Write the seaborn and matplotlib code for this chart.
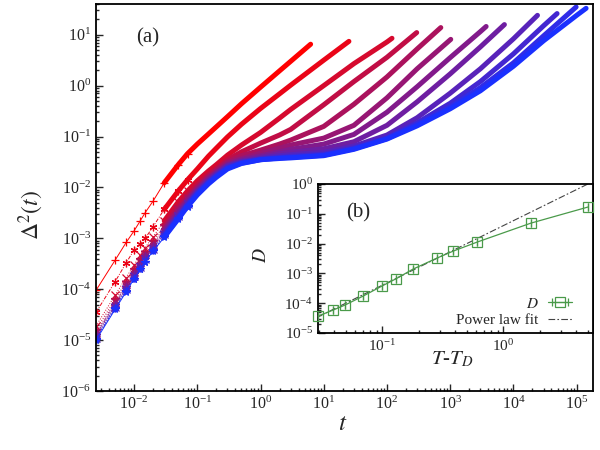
# Mean-squared displacement curves (a) with an inset of the diffusion coefficient vs T-T_D (b).

import numpy as np
import matplotlib
matplotlib.use("Agg")
import matplotlib.pyplot as plt
import matplotlib.ticker as mticker
import seaborn as sns

# ---- data ----
t_grid = [0.0025, 0.005, 0.0075, 0.01, 0.0125, 0.015, 0.02, 0.03, 0.05, 0.07, 0.1, 0.15, 0.2, 0.3, 0.5,
          1, 2, 3, 10, 30, 100, 300, 1e3, 3e3, 1e4, 3e4, 1e5]

msd_1 = [9.5e-5, 3.7e-4, 8.3e-4, 1.4e-3, 2.2e-3, 3.2e-3, 5.4e-3, 1.23e-2, 2.8e-2, 4.6e-2, 7.1e-2, 0.112,
         0.155, 0.245, 0.44, 0.93, 1.95, 3.0]
msd_2 = [3.5e-5, 1.4e-4, 3.3e-4, 5.9e-4, 7.8e-4, 1.0e-3, 1.7e-3, 3.7e-3, 8.5e-3, 1.41e-2, 2.3e-2, 4.1e-2,
         5.9e-2, 9.8e-2, 0.174, 0.355, 0.69, 1.02, 3.16]
msd_3 = [1.9e-5, 7.6e-5, 1.7e-4, 3.0e-4, 4.7e-4, 6.6e-4, 1.07e-3, 2.2e-3, 5.2e-3, 8.5e-3, 1.35e-2, 2.1e-2,
         2.8e-2, 4.3e-2, 6.8e-2, 0.12, 0.23, 0.34, 1.0, 2.7, 7.2]
msd_4 = [1.6e-5, 6.3e-5, 1.4e-4, 2.5e-4, 3.9e-4, 5.5e-4, 8.9e-4, 1.8e-3, 4.2e-3, 6.9e-3, 1.12e-2, 1.78e-2,
         2.3e-2, 3.5e-2, 5.0e-2, 7.4e-2, 0.107, 0.138, 0.42, 1.2, 3.6]
msd_5 = [1.4e-5, 5.6e-5, 1.26e-4, 2.2e-4, 3.5e-4, 4.9e-4, 7.9e-4, 1.6e-3, 3.7e-3, 6.2e-3, 1.0e-2, 1.62e-2,
         2.2e-2, 3.2e-2, 4.2e-2, 5.4e-2, 7.1e-2, 8.5e-2, 0.158, 0.43, 1.48, 5.25]
msd_6 = [1.3e-5, 5.2e-5, 1.2e-4, 2.1e-4, 3.2e-4, 4.6e-4, 7.4e-4, 1.45e-3, 3.4e-3, 5.8e-3, 9.5e-3, 1.55e-2,
         2.0e-2, 3.0e-2, 3.7e-2, 4.7e-2, 5.9e-2, 6.8e-2, 9.3e-2, 0.166, 0.575, 2.14]
msd_7 = [1.26e-5, 5.0e-5, 1.1e-4, 2.0e-4, 3.1e-4, 4.4e-4, 7.1e-4, 1.35e-3, 3.2e-3, 5.4e-3, 8.9e-3, 1.45e-2,
         1.95e-2, 2.8e-2, 3.5e-2, 4.2e-2, 5.0e-2, 5.6e-2, 7.1e-2, 0.11, 0.30, 0.95, 3.55, 11.5]
msd_8 = [1.2e-5, 4.7e-5, 1.05e-4, 1.9e-4, 2.9e-4, 4.1e-4, 6.6e-4, 1.26e-3, 2.95e-3, 5.0e-3, 8.5e-3, 1.38e-2,
         1.86e-2, 2.7e-2, 3.3e-2, 3.9e-2, 4.6e-2, 4.9e-2, 5.75e-2, 7.9e-2, 0.166, 0.48, 1.7, 5.75]
msd_9 = [1.1e-5, 4.5e-5, 1.0e-4, 1.8e-4, 2.75e-4, 3.9e-4, 6.3e-4, 1.2e-3, 2.8e-3, 4.8e-3, 8.1e-3, 1.32e-2,
         1.78e-2, 2.6e-2, 3.2e-2, 3.7e-2, 4.2e-2, 4.4e-2, 4.9e-2, 6.5e-2, 0.107, 0.234, 0.71, 2.14, 8.3]
msd_10 = [1.07e-5, 4.3e-5, 9.5e-5, 1.7e-4, 2.6e-4, 3.7e-4, 6.0e-4, 1.15e-3, 2.6e-3, 4.6e-3, 7.8e-3, 1.26e-2,
          1.7e-2, 2.45e-2, 3.1e-2, 3.6e-2, 3.9e-2, 4.1e-2, 4.5e-2, 6.0e-2, 9.5e-2, 0.186, 0.45, 1.2, 4.2, 15]
msd_11 = [1.05e-5, 4.2e-5, 9.3e-5, 1.6e-4, 2.5e-4, 3.5e-4, 5.8e-4, 1.1e-3, 2.5e-3, 4.4e-3, 7.4e-3, 1.23e-2,
          1.66e-2, 2.4e-2, 3.0e-2, 3.5e-2, 3.8e-2, 3.9e-2, 4.3e-2, 5.75e-2, 9.1e-2, 0.174, 0.38, 0.91, 2.8, 9.5]
msd_12 = [1.0e-5, 4.0e-5, 8.9e-5, 1.6e-4, 2.45e-4, 3.5e-4, 5.6e-4, 1.05e-3, 2.4e-3, 4.2e-3, 7.1e-3, 1.17e-2,
          1.58e-2, 2.3e-2, 2.95e-2, 3.5e-2, 3.7e-2, 3.8e-2, 4.2e-2, 5.6e-2, 8.9e-2, 0.162, 0.35, 0.79, 2.4, 7.6, 24]

# last sample of each run
t_end = [6.2, 25, 120, 295, 710, 1020, 3700, 7200, 24000, 49000, 98000, 141000]
msd_end = [6.5, 7.4, 8.5, 11, 13.8, 8.1, 14.5, 15.8, 24, 26, 35, 33]

all_msd = [msd_1, msd_2, msd_3, msd_4, msd_5, msd_6, msd_7, msd_8, msd_9, msd_10, msd_11, msd_12]

# inset: diffusion coefficient
temp_diff = [0.0296, 0.0394, 0.0494, 0.0697, 0.1, 0.131, 0.18, 0.285, 0.386, 0.61, 1.70, 5.04]
diff_coef = [3.7e-5, 5.9e-5, 8.7e-5, 1.74e-4, 3.8e-4, 6.7e-4, 1.4e-3, 3.3e-3, 5.6e-3, 1.13e-2, 4.9e-2, 0.17]
fit_amp = 0.04   # D = fit_amp * (T-T_D)^fit_exp
fit_exp = 2.0

# ---- style ----
sns.set_style("ticks")
plt.rcParams["font.family"] = ["Liberation Serif", "DejaVu Serif"]
plt.rcParams["mathtext.fontset"] = "stix"
plt.rcParams["axes.linewidth"] = 1.3

colors = sns.blend_palette(["#ff0000", "#1a30ff"], len(all_msd))
markers = ["+", (6, 2, 0), "x", "*", "x", (6, 2, 0), "*", "+", "x", (6, 2, 0), "*", "*"]
styles = ["-", (0, (4, 1.5, 1, 1.5)), ":", ":", ":", ":", ":", ":", ":", ":", ":", "-"]
n_sym = 10      # samples drawn with individual symbols
thick_from = 7  # dense sampling from here on shows as a thick band

fig = plt.figure(figsize=(6, 4.5), dpi=100)
ax = fig.add_axes([0.16, 0.131, 0.828, 0.86])

for msd, te, me, c, m, ls in zip(all_msd, t_end, msd_end, colors, markers, styles):
    t = t_grid[:len(msd)] + [te]
    y = msd + [me]
    sns.lineplot(x=t[:n_sym], y=y[:n_sym], ax=ax, color=c, lw=0.7, linestyle=ls,
                 marker=m, ms=5.5, mec=c, mfc=c, mew=0.9, legend=False)
    sns.lineplot(x=t[thick_from:], y=y[thick_from:], ax=ax, color=c, lw=3.6,
                 solid_capstyle="round", solid_joinstyle="round", legend=False)

ax.set_xscale("log")
ax.set_yscale("log")
ax.set_xlim(2.5e-3, 1.8e5)
ax.set_ylim(1e-6, 40)
ax.set_xticks(10.0 ** np.arange(-2, 6))
ax.set_yticks(10.0 ** np.arange(-6, 2))
ax.xaxis.set_minor_locator(mticker.LogLocator(base=10, subs=np.arange(2, 10), numticks=100))
ax.yaxis.set_minor_locator(mticker.LogLocator(base=10, subs=np.arange(2, 10), numticks=100))
ax.xaxis.set_minor_formatter(mticker.NullFormatter())
ax.yaxis.set_minor_formatter(mticker.NullFormatter())
ax.tick_params(which="both", direction="in", labelsize=11.5, width=1)
ax.tick_params(which="major", length=5)
ax.tick_params(which="minor", length=2.5)
for s in ax.spines.values():
    s.set_visible(True)
    s.set_color("black")

ax.set_xlabel(r"$t$", fontsize=18)
ax.set_ylabel(r"$\mathit{\Delta}^2(t)$", fontsize=17)
ax.xaxis.set_label_coords(0.497, -0.058)
ax.yaxis.set_label_coords(-0.1, 0.455)
ax.text(0.105, 0.912, "(a)", transform=ax.transAxes, fontsize=15, ha="center", va="center")

# ---- inset ----
axin = fig.add_axes([0.53, 0.26, 0.458, 0.331])
axin.set_facecolor("white")
green = "#4a9a4a"

axin.set_xscale("log")
axin.set_yscale("log")
xlo, xhi = 0.0295, 5.5
fit_x = [xlo, xhi]
fit_y = [fit_amp * v ** fit_exp for v in fit_x]
sns.lineplot(x=fit_x, y=fit_y, ax=axin, color="#444444", lw=0.8,
             linestyle=(0, (6, 2, 1.5, 2)), label="Power law fit", legend=False)
axin.errorbar(temp_diff, diff_coef, xerr=0, color=green, lw=0.9, marker="s", ms=6.5,
              mfc="none", mec=green, mew=0.9, capsize=3, label=r"$D$", clip_on=False, zorder=3)

axin.set_xlim(xlo, xhi)
axin.set_ylim(1e-5, 1)
axin.set_xticks([0.1, 1])
axin.set_yticks(10.0 ** np.arange(-5, 1))
axin.xaxis.set_minor_locator(mticker.LogLocator(base=10, subs=np.arange(2, 10), numticks=100))
axin.yaxis.set_minor_locator(mticker.LogLocator(base=10, subs=np.arange(2, 10), numticks=100))
axin.xaxis.set_minor_formatter(mticker.NullFormatter())
axin.yaxis.set_minor_formatter(mticker.NullFormatter())
axin.tick_params(which="both", direction="in", labelsize=11, width=1)
axin.tick_params(which="major", length=5)
axin.tick_params(which="minor", length=2.5)
for s in axin.spines.values():
    s.set_visible(True)
    s.set_color("black")

axin.set_xlabel(r"$T$-$T_D$", fontsize=15)
axin.set_ylabel(r"$D$", fontsize=14)
axin.xaxis.set_label_coords(0.49, -0.11)
axin.yaxis.set_label_coords(-0.175, 0.52)
axin.text(0.145, 0.805, "(b)", transform=axin.transAxes, fontsize=15, ha="center", va="center")

handles, labels = axin.get_legend_handles_labels()
order = [labels.index(r"$D$"), labels.index("Power law fit")]
axin.legend([handles[i] for i in order], [labels[i] for i in order], loc="lower right",
            bbox_to_anchor=(0.975, -0.055), frameon=False, markerfirst=False, fontsize=11,
            handlelength=1.6, handletextpad=0.6, labelspacing=0.2)

fig.savefig("out.png", dpi=100)
